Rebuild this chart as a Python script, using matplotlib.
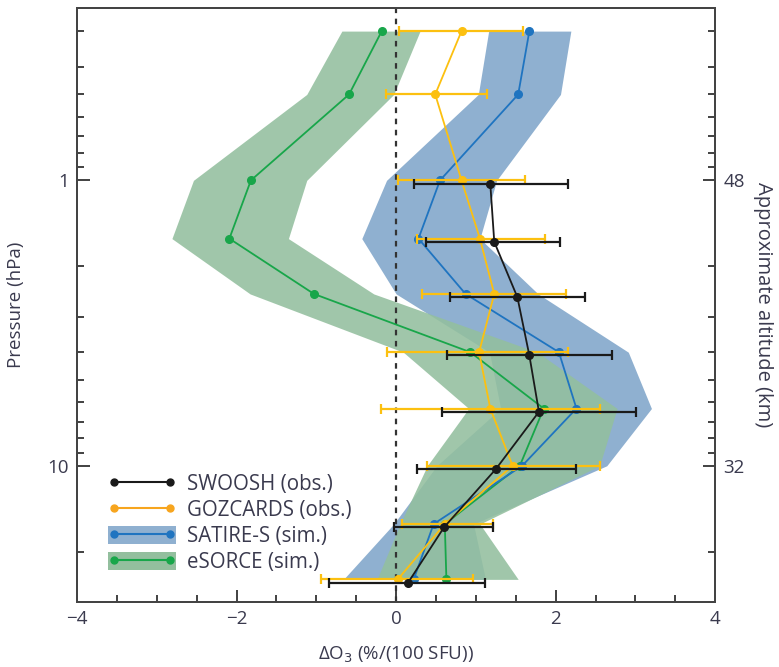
import matplotlib
matplotlib.use('Agg')
import matplotlib.pyplot as plt
from matplotlib.lines import Line2D
from matplotlib.patches import Patch
from matplotlib.legend_handler import HandlerTuple
import numpy as np

plt.rcParams['font.family'] = ['Open Sans', 'DejaVu Sans']

# pressure levels (hPa)
levels = [0.3, 0.5, 1.0, 1.6, 2.5, 4.0, 6.3, 10.0, 16.0, 25.0]

# SATIRE-S (sim.)
satire = [1.67, 1.53, 0.55, 0.28, 0.87, 2.04, 2.26, 1.58, 0.47, 0.22]
satire_lo = [1.16, 1.03, -0.12, -0.43, 0.00, 1.17, 1.31, 0.51, -0.03, -0.66]
satire_hi = [2.19, 2.06, 1.26, 1.05, 1.78, 2.91, 3.20, 2.64, 0.97, 1.12]

# eSORCE (sim.)
esorce = [-0.18, -0.59, -1.82, -2.09, -1.03, 0.93, 1.85, 1.55, 0.61, 0.63]
esorce_lo = [-0.68, -1.12, -2.54, -2.81, -1.83, 0.09, 0.91, 0.39, 0.05, -0.24]
esorce_hi = [0.30, -0.03, -1.12, -1.35, -0.28, 1.77, 2.77, 2.55, 1.05, 1.53]

# GOZCARDS (obs.)
gozcards = [0.82, 0.49, 0.82, 1.05, 1.23, 1.04, 1.18, 1.46, 0.61, 0.02]
gozcards_lo = [0.04, -0.13, 0.02, 0.26, 0.33, -0.11, -0.19, 0.39, 0.07, -0.94]
gozcards_hi = [1.59, 1.14, 1.61, 1.87, 2.13, 2.16, 2.55, 2.55, 1.22, 0.96]

# SWOOSH (obs.), 1 hPa and below
swoosh_levels = [1.0, 1.6, 2.5, 4.0, 6.3, 10.0, 16.0, 25.0]
swoosh = [1.18, 1.23, 1.52, 1.67, 1.79, 1.25, 0.60, 0.15]
swoosh_lo = [0.23, 0.38, 0.67, 0.64, 0.57, 0.26, -0.03, -0.84]
swoosh_hi = [2.15, 2.05, 2.37, 2.70, 3.01, 2.26, 1.22, 1.12]

c_black = '#1a1a1a'
c_yellow = '#fcc010'
c_yellow_leg = '#f7a51e'
c_blue = '#1f74c0'
c_green = '#18a64a'
c_blue_band = '#8fb0d0'
c_green_band = '#93bf9e'
txt = '#3a3a4e'

fig = plt.figure(figsize=(7.79, 6.67), dpi=100)
ax = fig.add_axes([0.0988, 0.0975, 0.8194, 0.8905])

# bands
ax.fill_betweenx(levels, satire_lo, satire_hi, color=c_blue_band, lw=0, zorder=1)
ax.fill_betweenx(levels, esorce_lo, esorce_hi, color=c_green_band, alpha=0.88, lw=0, zorder=2)

ax.axvline(0, color='#333333', ls=(0, (2.5, 2.5)), lw=1.6, zorder=3)

ax.plot(esorce, levels, '-o', color=c_green, lw=1.3, ms=5.5, zorder=4)
ax.plot(satire, levels, '-o', color=c_blue, lw=1.3, ms=5.5, zorder=4)

goz = np.array(gozcards)
ax.errorbar(goz, levels, xerr=[goz - np.array(gozcards_lo), np.array(gozcards_hi) - goz],
            fmt='-o', color=c_yellow, lw=1.3, ms=5.5, elinewidth=1.6, capsize=3.5,
            capthick=1.6, zorder=5)

sw = np.array(swoosh)
sw_p = np.array(swoosh_levels) * 1.027
ax.errorbar(sw, sw_p, xerr=[sw - np.array(swoosh_lo), np.array(swoosh_hi) - sw],
            fmt='-o', color=c_black, lw=1.3, ms=5.5, elinewidth=1.6, capsize=3.5,
            capthick=1.6, zorder=6)

ax.set_yscale('log')
ax.set_ylim(30, 0.249)
ax.set_xlim(-4, 4)
ax.set_xticks([-4, -2, 0, 2, 4])
ax.set_xticklabels(['\u22124', '\u22122', '0', '2', '4'])
ax.set_xticks(np.arange(-3.5, 4, 0.5), minor=True)
ax.set_yticks([1, 10])
ax.set_yticklabels(['1', '10'])
ax.yaxis.set_minor_formatter(matplotlib.ticker.NullFormatter())

ax.tick_params(which='major', direction='in', length=9, width=1.3, colors='#333333',
               labelcolor=txt, labelsize=13.5, pad=6)
ax.tick_params(which='minor', direction='in', length=5, width=1.3, colors='#333333')
ax.tick_params(top=False, which='both')

ax2 = ax.twinx()
ax2.set_yscale('log')
ax2.set_ylim(30, 0.249)
ax2.set_yticks([1, 10])
ax2.set_yticklabels(['48', '32'])
ax2.yaxis.set_minor_formatter(matplotlib.ticker.NullFormatter())
ax2.tick_params(which='major', direction='in', length=9, width=1.3, colors='#333333',
                labelcolor=txt, labelsize=13.5, pad=6)
ax2.tick_params(which='minor', direction='in', length=5, width=1.3, colors='#333333')

for a in [ax, ax2]:
    for s in a.spines.values():
        s.set_color('#444444')
        s.set_linewidth(1.4)

ax.set_ylabel('Pressure (hPa)', color=txt, fontsize=13.5, labelpad=16)
ax2.set_ylabel('Approximate altitude (km)', color=txt, fontsize=14.5, rotation=270, labelpad=20)
ax.set_xlabel('\u0394O$_3$ (%/(100 SFU))', color=txt, fontsize=13.5, labelpad=12)

# legend
h_sw = Line2D([], [], color=c_black, marker='o', ms=5, lw=1.5)
h_gz = Line2D([], [], color=c_yellow_leg, marker='o', ms=5, lw=1.5)
h_sa = (Patch(facecolor=c_blue_band, lw=0), Line2D([], [], color=c_blue, marker='o', ms=5, lw=1.5))
h_es = (Patch(facecolor=c_green_band, lw=0), Line2D([], [], color=c_green, marker='o', ms=5, lw=1.5))
leg = ax.legend([h_sw, h_gz, h_sa, h_es],
                ['SWOOSH (obs.)', 'GOZCARDS (obs.)', 'SATIRE-S (sim.)', 'eSORCE (sim.)'],
                handler_map={tuple: HandlerTuple(ndivide=1, pad=0)},
                loc='lower left', bbox_to_anchor=(0.02, 0.018), frameon=False,
                numpoints=2, handlelength=3.3, handleheight=1.0, labelspacing=0.22,
                handletextpad=0.55, fontsize=14.8)
for t in leg.get_texts():
    t.set_color(txt)

fig.savefig('out.png', dpi=100)
